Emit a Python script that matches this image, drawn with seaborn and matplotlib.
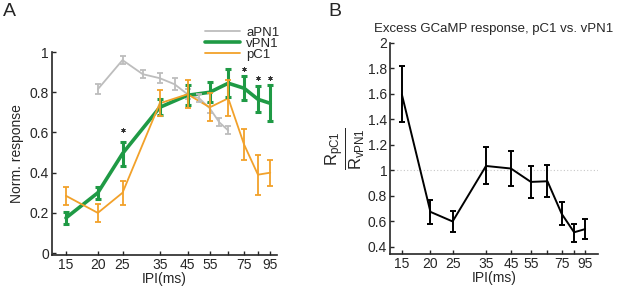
import matplotlib
matplotlib.use('Agg')
import matplotlib.pyplot as plt
import numpy as np
import pandas as pd
import seaborn as sns
from matplotlib.lines import Line2D

# data
ipi_a = [20, 25, 30, 35, 40, 45, 50, 55, 60, 65]
apn1 = [0.815, 0.96, 0.89, 0.87, 0.84, 0.79, 0.77, 0.72, 0.65, 0.61]
apn1_err = [0.025, 0.02, 0.02, 0.025, 0.03, 0.025, 0.02, 0.025, 0.02, 0.02]

ipi = [15, 20, 25, 35, 45, 55, 65, 75, 85, 95]
vpn1 = [0.175, 0.30, 0.495, 0.725, 0.785, 0.80, 0.845, 0.82, 0.765, 0.745]
vpn1_err = [0.03, 0.03, 0.06, 0.04, 0.05, 0.05, 0.07, 0.06, 0.065, 0.09]
pc1 = [0.285, 0.20, 0.30, 0.745, 0.79, 0.725, 0.77, 0.54, 0.39, 0.40]
pc1_err = [0.045, 0.045, 0.06, 0.065, 0.07, 0.07, 0.09, 0.075, 0.10, 0.065]

star_ipi = [25, 75, 85, 95]
star_y = [0.61, 0.915, 0.87, 0.87]

ratio = [1.595, 0.675, 0.60, 1.035, 1.015, 0.91, 0.915, 0.66, 0.515, 0.54]
ratio_lo = [1.38, 0.58, 0.52, 0.89, 0.875, 0.78, 0.79, 0.57, 0.44, 0.46]
ratio_hi = [1.82, 0.77, 0.68, 1.18, 1.155, 1.035, 1.04, 0.75, 0.58, 0.62]

tick_pos = [15, 20, 25, 35, 45, 55, 65, 75, 85, 95]
tick_lab = ['15', '20', '25', '35', '45', '55', '', '75', '', '95']

gray, green, orange = '#bdbdbd', '#1f9a45', '#f2a12a'

sns.set_style('ticks')
plt.rcParams['font.family'] = ['Liberation Sans', 'DejaVu Sans']
plt.rcParams['mathtext.fontset'] = 'custom'
plt.rcParams['mathtext.rm'] = 'Liberation Sans'
plt.rcParams['mathtext.it'] = 'Liberation Sans'

fig = plt.figure(figsize=(6.17, 2.86), dpi=100)
axA = fig.add_axes([0.084, 0.108, 0.365, 0.71])
axB = fig.add_axes([0.632, 0.112, 0.337, 0.738])

df = pd.concat([
    pd.DataFrame({'ipi': ipi_a, 'resp': apn1, 'cell': 'aPN1'}),
    pd.DataFrame({'ipi': ipi, 'resp': vpn1, 'cell': 'vPN1'}),
    pd.DataFrame({'ipi': ipi, 'resp': pc1, 'cell': 'pC1'}),
])
pal = {'aPN1': gray, 'vPN1': green, 'pC1': orange}
sns.lineplot(data=df, x='ipi', y='resp', hue='cell', palette=pal, size='cell',
             sizes={'aPN1': 1.3, 'vPN1': 2.6, 'pC1': 1.3}, ax=axA,
             errorbar=None, legend=False)
for x, y, e, c, lw in [(ipi_a, apn1, apn1_err, gray, 1.3),
                       (ipi, vpn1, vpn1_err, green, 2.2),
                       (ipi, pc1, pc1_err, orange, 1.3)]:
    axA.errorbar(x, y, yerr=e, fmt='none', ecolor=c, elinewidth=lw,
                 capsize=2.5, capthick=lw)
axA.plot(star_ipi, star_y, ls='none', marker=(6, 2, 0), ms=3.2,
         color='#333333', mew=0.6)

axA.set_xscale('log')
axA.set_xlim(13.2, 101)
axA.set_ylim(-0.01, 1.0)
axA.set_yticks([0, 0.2, 0.4, 0.6, 0.8, 1])
axA.set_yticklabels(['0', '0.2', '0.4', '0.6', '0.8', '1'])
axA.set_ylabel('Norm. response', fontsize=10)
axA.set_xlabel('IPI(ms)', fontsize=10, labelpad=0)

handles = [Line2D([], [], color=gray, lw=1.3),
           Line2D([], [], color=green, lw=2.6),
           Line2D([], [], color=orange, lw=1.3)]
fig.legend(handles, ['aPN1', 'vPN1', 'pC1'], loc='upper left',
           bbox_to_anchor=(0.322, 0.93), frameon=False, fontsize=9.5,
           handlelength=2.6, handletextpad=0.5, labelspacing=-0.1,
           borderpad=0)

sns.lineplot(x=ipi, y=ratio, color='black', lw=1.4, ax=axB, errorbar=None)
yerr = [np.subtract(ratio, ratio_lo), np.subtract(ratio_hi, ratio)]
axB.errorbar(ipi, ratio, yerr=yerr, fmt='none', ecolor='black', elinewidth=1.4,
             capsize=2.5, capthick=1.4)
axB.axhline(1, color='#c8c8c8', ls=(0, (1, 2)), lw=0.8, zorder=0)
axB.set_xscale('log')
axB.set_xlim(13.3, 108)
axB.set_ylim(0.345, 2.0)
axB.set_yticks([0.4, 0.6, 0.8, 1, 1.2, 1.4, 1.6, 1.8, 2])
axB.set_yticklabels(['0.4', '0.6', '0.8', '1', '1.2', '1.4', '1.6', '1.8', '2'])
axB.set_ylabel(r'$\frac{\mathrm{R_{pC1}}}{\mathrm{R_{vPN1}}}$', fontsize=17, labelpad=1)
axB.set_xlabel('IPI(ms)', fontsize=10, labelpad=0)
axB.set_title('Excess GCaMP response, pC1 vs. vPN1', fontsize=9.5, pad=8)

for ax in (axA, axB):
    ax.xaxis.set_minor_locator(matplotlib.ticker.NullLocator())
    ax.set_xticks(tick_pos)
    ax.set_xticklabels(tick_lab)
    ax.tick_params(axis='both', direction='in', length=3, width=1,
                   labelsize=10, pad=2)
    for s in ('left', 'bottom'):
        ax.spines[s].set_linewidth(1.2)
    sns.despine(ax=ax)

fig.text(0.005, 0.945, 'A', fontsize=14)
fig.text(0.532, 0.945, 'B', fontsize=14)

fig.savefig('out.png', dpi=100)
